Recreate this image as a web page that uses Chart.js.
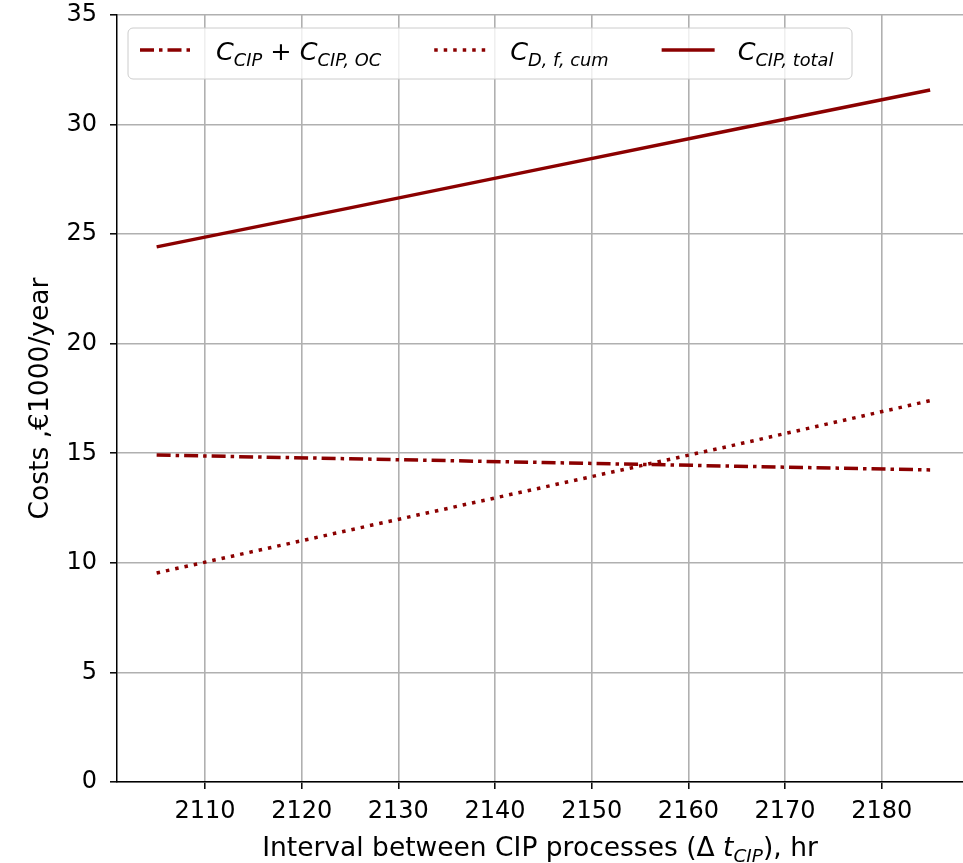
<!DOCTYPE html>
<html lang="en">
<head>
  <meta charset="UTF-8">
  <title>CIP interval costs</title>
  <script src="https://cdn.jsdelivr.net/npm/chart.js"></script>
  <style>
    body {
      margin: 0;
      background: #fff;
    }
    canvas {
      display: block;
    }
  </style>
</head>
<body>

  <canvas id="costChart" width="963" height="863"></canvas>

  <script>
    // Interval between CIP runs (hr) and yearly costs (k€/year)
    const hours = [2105, 2125, 2145, 2165, 2185];
    const cipOc = [14.92, 14.75, 14.58, 14.41, 14.24];
    const downtime = [9.54, 11.5, 13.45, 15.4, 17.4];
    const total = [24.42, 26.2, 28.0, 29.8, 31.58];

    const xTicks = [2110, 2120, 2130, 2140, 2150, 2160, 2170, 2180];
    const yTicks = [0, 5, 10, 15, 20, 25, 30, 35];

    // label pieces: i = italic, s = italic subscript, n = upright
    const legendLabels = [
      [['C', 'i'], ['CIP', 's'], [' + ', 'n'], ['C', 'i'], ['CIP, OC', 's']],
      [['C', 'i'], ['D, f, cum', 's']],
      [['C', 'i'], ['CIP, total', 's']]
    ];
    const xTitle = [['Interval between CIP processes (\u0394 ', 'n'], ['t', 'i'], ['CIP', 's'], ['), hr', 'n']];
    const yTitle = 'Costs ,\u20ac1000/year';

    const RED = '#8b0000';
    const FONT = '"DejaVu Sans", sans-serif';
    const TICK_SIZE = 24;
    const TITLE_SIZE = 26.5;
    const LEGEND_SIZE = 25.5;

    function pieceFont(style, size) {
      if (style === 'i') return `italic ${size}px ${FONT}`;
      if (style === 's') return `italic ${(size * 0.7).toFixed(1)}px ${FONT}`;
      return `${size}px ${FONT}`;
    }

    function measureMath(ctx, parts, size) {
      let w = 0;
      parts.forEach(([t, s]) => {
        ctx.font = pieceFont(s, size);
        w += ctx.measureText(t).width;
      });
      return w;
    }

    function drawMath(ctx, parts, x, y, size) {
      ctx.textBaseline = 'alphabetic';
      ctx.textAlign = 'left';
      parts.forEach(([t, s]) => {
        ctx.font = pieceFont(s, size);
        const dy = s === 's' ? size * 0.22 : 0;
        ctx.fillText(t, x, y + dy);
        x += ctx.measureText(t).width;
      });
      return x;
    }

    // axis titles and legend drawn on top of the chart
    const decorations = {
      id: 'decorations',
      afterDraw(chart) {
        const ctx = chart.ctx;
        const area = chart.chartArea;
        ctx.save();
        ctx.fillStyle = '#000';

        // x axis title
        const xw = measureMath(ctx, xTitle, TITLE_SIZE);
        drawMath(ctx, xTitle, (area.left + area.right) / 2 - xw / 2, 856, TITLE_SIZE);

        // y axis title
        ctx.save();
        ctx.translate(48, (area.top + area.bottom) / 2);
        ctx.rotate(-Math.PI / 2);
        ctx.font = `${TITLE_SIZE}px ${FONT}`;
        ctx.textAlign = 'center';
        ctx.textBaseline = 'alphabetic';
        ctx.fillText(yTitle, 0, 0);
        ctx.restore();

        // legend box
        const box = { x: 128, y: 28, w: 724, h: 51 };
        ctx.beginPath();
        ctx.roundRect(box.x, box.y, box.w, box.h, 5);
        ctx.fillStyle = 'rgba(255,255,255,0.8)';
        ctx.fill();
        ctx.strokeStyle = '#cccccc';
        ctx.lineWidth = 1;
        ctx.stroke();

        let x = 140;
        const lineY = 50;
        const textY = 60;
        chart.data.datasets.forEach((ds, i) => {
          ctx.beginPath();
          ctx.setLineDash(ds.borderDash || []);
          ctx.lineCap = ds.borderCapStyle || 'butt';
          ctx.strokeStyle = ds.borderColor;
          ctx.lineWidth = ds.borderWidth;
          ctx.moveTo(x, lineY);
          ctx.lineTo(x + 53, lineY);
          ctx.stroke();
          ctx.setLineDash([]);
          ctx.fillStyle = '#000';
          const end = drawMath(ctx, legendLabels[i], x + 76, textY, LEGEND_SIZE);
          x = end + 53;
        });

        ctx.restore();
      }
    };

    const gridStyle = {
      color: '#b0b0b0',
      lineWidth: 1.6,
      tickColor: '#000',
      tickLength: 7,
      tickWidth: 1.5
    };

    const ctx = document.getElementById('costChart').getContext('2d');
    new Chart(ctx, {
      type: 'line',
      data: {
        datasets: [
          {
            data: hours.map((h, i) => ({ x: h, y: cipOc[i] })),
            borderColor: RED,
            borderWidth: 3.5,
            borderDash: [14, 5, 3.5, 5],
            borderCapStyle: 'butt'
          },
          {
            data: hours.map((h, i) => ({ x: h, y: downtime[i] })),
            borderColor: RED,
            borderWidth: 3.5,
            borderDash: [3.5, 6],
            borderCapStyle: 'butt'
          },
          {
            data: hours.map((h, i) => ({ x: h, y: total[i] })),
            borderColor: RED,
            borderWidth: 3.5,
            borderCapStyle: 'butt'
          }
        ]
      },
      options: {
        responsive: false,
        animation: false,
        devicePixelRatio: 1,
        layout: { padding: { top: 15, right: 0, left: 0, bottom: 0 } },
        elements: {
          point: { radius: 0 },
          line: { tension: 0, fill: false }
        },
        plugins: {
          legend: { display: false },
          tooltip: { enabled: false }
        },
        scales: {
          x: {
            type: 'linear',
            min: 2100.9,
            max: 2188.4,
            afterBuildTicks: axis => { axis.ticks = xTicks.map(v => ({ value: v })); },
            afterFit: axis => {
              axis.height = 81;
              axis.paddingLeft = 0;
              axis.paddingRight = 0;
            },
            ticks: {
              autoSkip: false,
              maxRotation: 0,
              padding: 8,
              color: '#000',
              font: { family: FONT, size: TICK_SIZE },
              callback: v => String(v)
            },
            grid: gridStyle,
            border: { color: '#000', width: 1.5 }
          },
          y: {
            type: 'linear',
            min: 0,
            max: 35,
            afterBuildTicks: axis => { axis.ticks = yTicks.map(v => ({ value: v })); },
            afterFit: axis => {
              axis.width = 117;
              axis.paddingTop = 0;
              axis.paddingBottom = 0;
            },
            ticks: {
              padding: 13,
              color: '#000',
              font: { family: FONT, size: TICK_SIZE },
              callback: v => String(v)
            },
            grid: gridStyle,
            border: { color: '#000', width: 1.5 }
          }
        }
      },
      plugins: [decorations]
    });
  </script>

</body>
</html>
